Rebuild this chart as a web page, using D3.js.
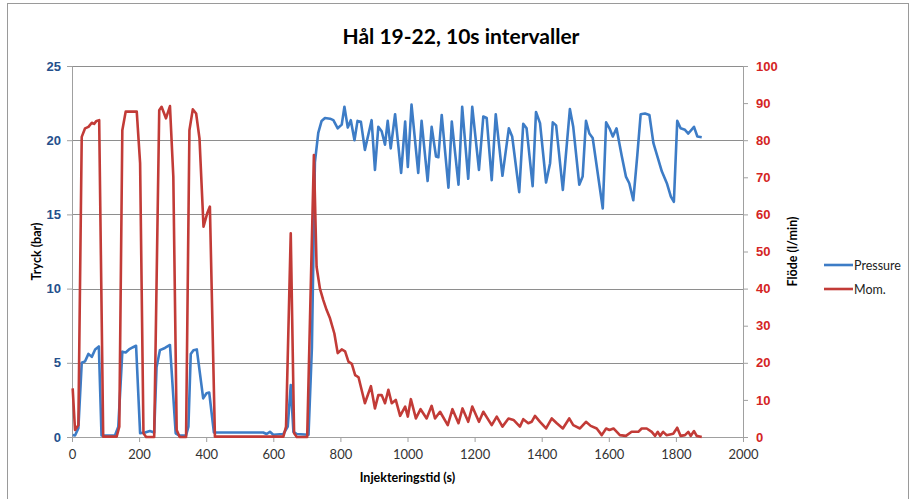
<!DOCTYPE html>
<html>
<head>
<meta charset="utf-8">
<script src="https://cdn.jsdelivr.net/npm/d3@7"></script>
<style>
  body { margin: 0; background: #fff; }
  svg { display: block; font-family: Lato, "Open Sans", sans-serif; }
</style>
</head>
<body>
<script>
// Pressure (bar), vertex by vertex
const pressureTime = [2, 9, 19, 29, 39, 49, 59, 69, 80, 88, 128, 138, 150, 160, 170, 182, 191, 203, 218, 232, 245,
  252, 262, 277, 292, 309, 320, 340, 347, 354, 362, 372, 391, 401, 409, 423, 570, 580, 590, 600, 630, 643, 652, 660,
  670, 705, 715, 724, 734, 744, 754, 769, 779, 792, 804, 812, 822, 831, 842, 851, 861, 873, 893, 903, 913, 923, 933,
  941, 950, 963, 981, 993, 1001, 1012, 1032, 1042, 1060, 1072, 1085, 1092, 1102, 1122, 1132, 1152, 1163, 1181, 1193,
  1213, 1226, 1236, 1251, 1263, 1283, 1302, 1312, 1333, 1345, 1355, 1373, 1383, 1395, 1413, 1425, 1433, 1443, 1463,
  1484, 1494, 1512, 1522, 1532, 1542, 1552, 1582, 1592, 1602, 1612, 1623, 1638, 1651, 1661, 1673, 1685, 1695, 1708,
  1721, 1733, 1745, 1758, 1773, 1785, 1794, 1804, 1814, 1827, 1837, 1854, 1864, 1877];
const pressure = [0.13, 0.1, 0.6, 5.0, 5.1, 5.6, 5.4, 5.9, 6.1, 0.1, 0.1, 0.7, 5.75, 5.7, 5.9, 6.05, 6.15, 0.25, 0.3, 0.4, 0.3,
  4.7, 5.85, 6.0, 6.2, 0.25, 0.1, 0.1, 0.7, 5.6, 5.85, 5.9, 2.6, 2.95, 3.0, 0.3, 0.3, 0.2, 0.35, 0.15, 0.2, 0.7, 3.5, 0.35,
  0.2, 0.15, 6, 18.5, 20.5, 21.3, 21.5, 21.45, 21.35, 20.8, 21.05, 22.25, 20.85, 21.35, 20.0, 21.3, 21.25, 19.35, 21.35, 18.0, 20.9, 20.6, 19.7,
  21.3, 19.45, 21.75, 17.8, 21.25, 18.2, 22.4, 17.8, 21.3, 17.25, 20.9, 18.9, 18.85, 21.7, 16.8, 21.25, 17.0, 22.25, 17.4, 22.25,
  18.0, 21.6, 21.5, 17.3, 21.75, 17.6, 20.8, 20.25, 16.5, 21.1, 20.8, 16.9, 21.9, 21.15, 17.15, 18.45, 21.2, 21.0, 16.65,
  22.1, 20.9, 17.0, 17.55, 21.3, 20.45, 20.15, 15.4, 21.2, 20.8, 20.25, 20.8, 19.0, 17.55, 17.1, 15.95, 19.0, 21.75, 21.8,
  21.7, 19.8, 18.9, 17.9, 17.1, 16.2, 15.85, 21.3, 20.8, 20.7, 20.45, 20.9, 20.25, 20.2];

// Flow "Mom." (l/min)
const flowTime = [2, 9, 19, 29, 39, 49, 59, 66, 73, 81, 93, 133, 141, 150, 160, 193, 203, 213, 221, 245, 260, 267, 280,
  292, 302, 312, 321, 340, 350, 360, 370, 380, 392, 403, 411, 426, 630, 638, 652, 662, 670, 701, 721, 729, 739, 749,
  759, 769, 782, 792, 804, 814, 824, 834, 844, 854, 873, 891, 903, 913, 923, 933, 943, 953, 965, 978, 993, 1001, 1010,
  1025, 1039, 1057, 1072, 1082, 1097, 1120, 1134, 1152, 1164, 1181, 1193, 1213, 1226, 1251, 1266, 1283, 1301, 1316,
  1335, 1345, 1360, 1370, 1380, 1395, 1413, 1430, 1445, 1463, 1482, 1494, 1514, 1532, 1546, 1564, 1579, 1592, 1602,
  1614, 1633, 1651, 1668, 1688, 1698, 1713, 1728, 1738, 1746, 1753, 1762, 1772, 1792, 1804, 1814, 1827, 1837, 1844,
  1854, 1862, 1877];
const flow = [13.1, 1.9, 3.2, 80.9, 83.2, 83.6, 84.7, 84.4, 85.2, 85.4, 0.1, 0.1, 2.8, 82.7, 87.7, 87.7, 73.8, 1.0, 0, 0, 88.1, 89.0, 85.9,
  89.2, 70.2, 1.9, 0, 0, 82.7, 88.3, 87.2, 80.5, 56.7, 60.3, 62.1, 0.1, 0.1, 2.8, 54.9, 1.0, 0, 0, 76.0, 45.9, 40.0, 36.9,
  34.2, 32, 27.9, 22.6, 23.6, 23.1, 20.3, 19.7, 16.7, 16.1, 9.1, 13.7, 7.7, 11.3, 11.3, 9.1, 12.7, 9.1, 10.0, 5.7, 8.2, 5.5, 10.2,
  5.0, 7.5, 5.0, 8.4, 5.0, 6.8, 3.2, 7.5, 3.7, 7.7, 4.1, 8.2, 4.1, 6.8, 3.2, 5.5, 2.8, 5.0, 4.6,
  2.8, 4.8, 3.7, 4.1, 5.7, 4.1, 2.3, 5.0, 3.7, 2.3, 5.0, 3.2, 2.3, 4.1, 3.0, 2.3, 0.5, 2.3, 1.9,
  2.3, 0.5, 0.3, 1.4, 1.4, 2.3, 2.3, 1.4, 0.3, 1.4, 0.3, 1.4, 0.5, 0.9, 2.5, 0.3, 0.5, 1.4, 0.3,
  1.6, 0.3, 0];

const xTicks = [0, 200, 400, 600, 800, 1000, 1200, 1400, 1600, 1800, 2000];
const leftTicks = [0, 5, 10, 15, 20, 25];
const rightTicks = [0, 10, 20, 30, 40, 50, 60, 70, 80, 90, 100];
const seriesNames = ['Pressure', 'Mom.'];

const width = 912;
const height = 499;
const margin = { top: 66, right: 169, bottom: 62, left: 72 };
const blue = '#3d7cc6';
const red = '#c23b37';

const svg = d3.select('body')
    .append('svg')
    .attr('width', width)
    .attr('height', height);

svg.append('rect')
    .attr('x', 7.5).attr('y', 3.5)
    .attr('width', 901).attr('height', 500)
    .attr('fill', '#fff')
    .attr('stroke', '#9a9a9a');

const x = d3.scaleLinear()
    .domain([0, 2000])
    .range([margin.left, width - margin.right]);

const yL = d3.scaleLinear()
    .domain([0, 25])
    .range([height - margin.bottom, margin.top]);

const yR = d3.scaleLinear()
    .domain([0, 100])
    .range([height - margin.bottom, margin.top]);

// gridlines
svg.append('g')
    .selectAll('line')
    .data(leftTicks)
    .join('line')
    .attr('x1', margin.left)
    .attr('x2', width - margin.right)
    .attr('y1', d => Math.round(yL(d)) + 0.5)
    .attr('y2', d => Math.round(yL(d)) + 0.5)
    .attr('stroke', '#8e8e8e')
    .attr('stroke-width', 1.2);

// axes
const xAxis = svg.append('g')
    .attr('transform', `translate(0,${height - margin.bottom})`)
    .call(d3.axisBottom(x).tickValues(xTicks).tickFormat(d3.format('d')).tickSize(5).tickPadding(8));
xAxis.selectAll('text')
    .attr('fill', '#333')
    .style('font-size', '13px')
    .style('font-family', '"Liberation Sans Narrow", Lato, sans-serif');

const leftAxis = svg.append('g')
    .attr('transform', `translate(${margin.left},0)`)
    .call(d3.axisLeft(yL).tickValues(leftTicks).tickSize(5).tickPadding(6));
leftAxis.selectAll('text')
    .attr('fill', '#25508c')
    .style('font-size', '13px')
    .style('font-weight', 'bold');

const rightAxis = svg.append('g')
    .attr('transform', `translate(${width - margin.right},0)`)
    .call(d3.axisRight(yR).tickValues(rightTicks).tickSize(5).tickPadding(8));
rightAxis.selectAll('text')
    .attr('fill', '#d42424')
    .style('font-size', '13px')
    .style('font-weight', 'bold');

svg.selectAll('.domain, .tick line')
    .attr('stroke', '#a0a0a0');

// series
const pressureLine = d3.line()
    .x((d, i) => x(pressureTime[i]))
    .y(d => yL(d));

const flowLine = d3.line()
    .x((d, i) => x(flowTime[i]))
    .y(d => yR(d));

svg.append('path')
    .datum(pressure)
    .attr('d', pressureLine)
    .attr('fill', 'none')
    .attr('stroke', blue)
    .attr('stroke-width', 2.6)
    .attr('stroke-linejoin', 'round');

svg.append('path')
    .datum(flow)
    .attr('d', flowLine)
    .attr('fill', 'none')
    .attr('stroke', red)
    .attr('stroke-width', 2.6)
    .attr('stroke-linejoin', 'round');

// titles
svg.append('text')
    .attr('x', 461)
    .attr('y', 44)
    .attr('text-anchor', 'middle')
    .style('font-size', '21px')
    .style('font-weight', 'bold')
    .text('Hål 19-22, 10s intervaller');

svg.append('text')
    .attr('x', (margin.left + width - margin.right) / 2)
    .attr('y', 482)
    .attr('text-anchor', 'middle')
    .style('font-size', '12.5px')
    .style('font-weight', 'bold')
    .text('Injekteringstid (s)');

svg.append('text')
    .attr('transform', `translate(41,${(margin.top + height - margin.bottom) / 2}) rotate(-90)`)
    .attr('text-anchor', 'middle')
    .style('font-size', '12.5px')
    .style('font-weight', 'bold')
    .text('Tryck (bar)');

svg.append('text')
    .attr('transform', `translate(797,${(margin.top + height - margin.bottom) / 2}) rotate(-90)`)
    .attr('text-anchor', 'middle')
    .style('font-size', '12.5px')
    .style('font-weight', 'bold')
    .text('Flöde (l/min)');

// legend
const legend = svg.append('g')
    .attr('transform', 'translate(824,265)')
    .selectAll('g')
    .data(seriesNames)
    .join('g')
    .attr('transform', (d, i) => `translate(0,${i * 24})`);

legend.append('line')
    .attr('x1', 0).attr('x2', 29)
    .attr('stroke', (d, i) => i ? red : blue)
    .attr('stroke-width', 2.6);

legend.append('text')
    .attr('x', 30)
    .attr('y', 4.5)
    .style('font-size', '12.5px')
    .attr('fill', '#222')
    .text(d => d);
</script>
</body>
</html>
